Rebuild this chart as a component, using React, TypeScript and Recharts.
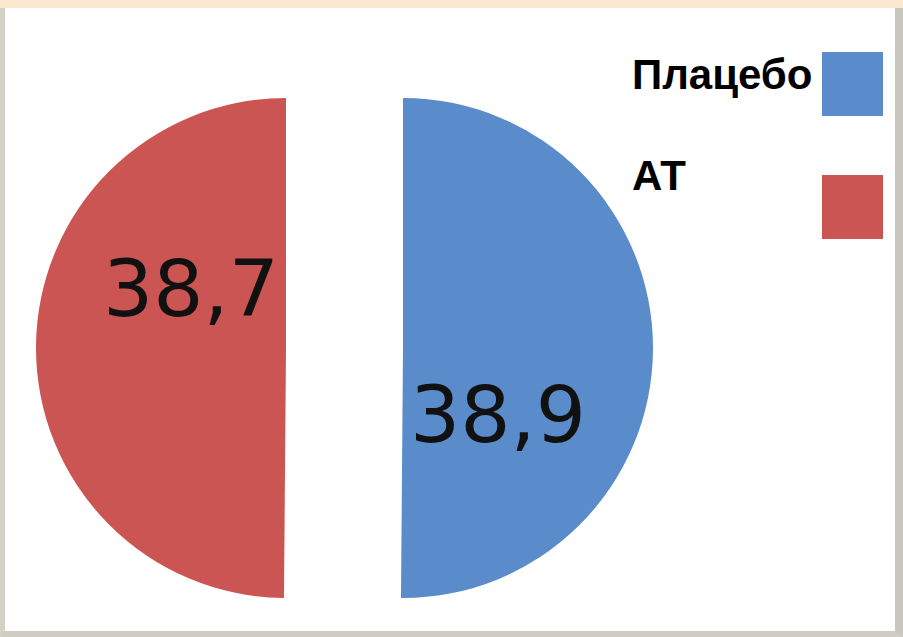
import { PieChart, Pie, Cell, Legend } from 'recharts'

const categories = ['Плацебо', 'АТ']
const values = [38.9, 38.7]
const colors = ['#5a8bca', '#cb5553']

const data = categories.map((name, i) => ({ name, value: values[i] }))

// label placement relative to each slice centre (index-aligned)
const labelOffsets = [
  { dx: 95, dy: 94 },
  { dx: -95, dy: -32 },
]

const fmt = (v: number) => v.toFixed(1).replace('.', ',')

function makeLabel(only: number) {
  return (props: any) => {
    const { cx, cy, index, value } = props
    if (index !== only) return null
    const off = labelOffsets[index]
    return (
      <text
        x={cx + off.dx}
        y={cy + off.dy}
        textAnchor="middle"
        fill="#111"
        fontSize={79}
        fontFamily="DejaVu Sans, sans-serif"
      >
        {fmt(value)}
      </text>
    )
  }
}

function LegendBox() {
  return (
    <svg width={903} height={260}>
      {categories.map((name, i) => (
        <g key={name}>
          <text
            x={632}
            y={89 + i * 101}
            fontSize={42}
            fontWeight="bold"
            fontFamily="Liberation Sans, Arial, sans-serif"
            fill="#000"
          >
            {name}
          </text>
          <rect x={822} y={52 + i * 123} width={61} height={64} fill={colors[i]} />
        </g>
      ))}
    </svg>
  )
}

export default function App() {
  return (
    <div
      style={{
        position: 'fixed',
        left: 0,
        top: 0,
        width: 903,
        height: 637,
        background: '#fbead0',
        overflow: 'hidden',
      }}
    >
      <div
        style={{
          position: 'absolute',
          left: 0,
          top: 8,
          width: 903,
          height: 629,
          boxSizing: 'border-box',
          background: '#fff',
          borderLeft: '5px solid #d4d0c6',
          borderRight: '8px solid #c9c6be',
          borderBottom: '6px solid #cfccc4',
        }}
      />
      <div style={{ position: 'absolute', left: 0, top: 0 }}>
        <PieChart width={903} height={637} margin={{ top: 0, right: 0, bottom: 0, left: 0 }}>
          <Pie
            data={data}
            dataKey="value"
            nameKey="name"
            cx={403}
            cy={348}
            outerRadius={250}
            startAngle={90}
            endAngle={-270}
            stroke="none"
            labelLine={false}
            label={makeLabel(0)}
            isAnimationActive={false}
          >
            {data.map((d, i) => (
              <Cell key={d.name} fill={i === 0 ? colors[0] : 'transparent'} />
            ))}
          </Pie>
          <Pie
            data={data}
            dataKey="value"
            nameKey="name"
            cx={286}
            cy={348}
            outerRadius={250}
            startAngle={90}
            endAngle={-270}
            stroke="none"
            labelLine={false}
            label={makeLabel(1)}
            isAnimationActive={false}
          >
            {data.map((d, i) => (
              <Cell key={d.name} fill={i === 1 ? colors[1] : 'transparent'} />
            ))}
          </Pie>
          <Legend
            content={() => <LegendBox />}
            wrapperStyle={{ position: 'absolute', left: 0, top: 0, width: 903, height: 260, bottom: 'auto' }}
          />
        </PieChart>
      </div>
    </div>
  )
}
